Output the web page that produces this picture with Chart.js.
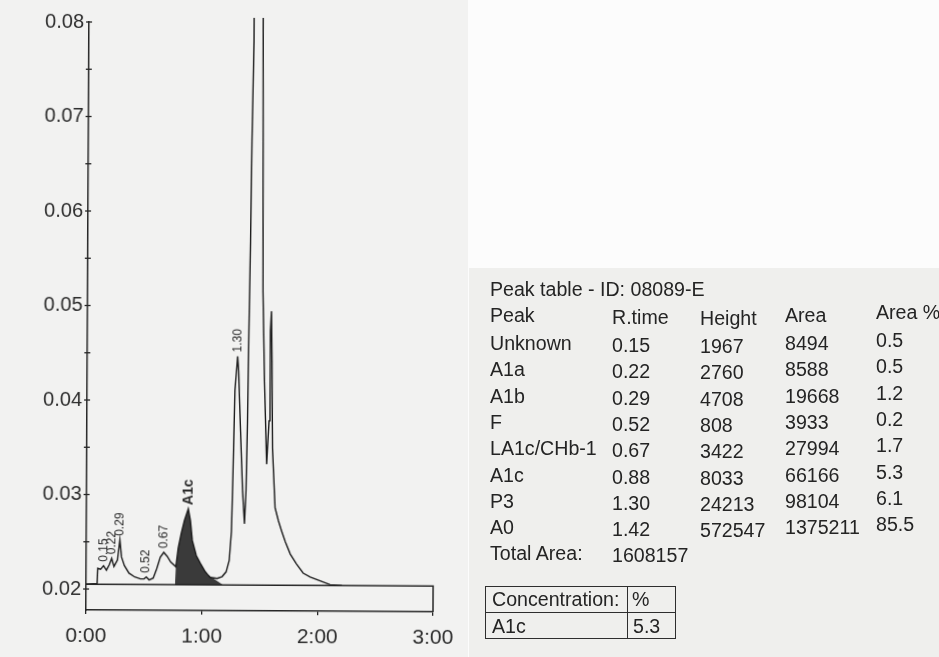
<!DOCTYPE html>
<html>
<head>
<meta charset="utf-8">
<title>HbA1c chromatogram</title>
<script src="https://cdn.jsdelivr.net/npm/chart.js@4.4.1/dist/chart.umd.min.js"></script>
<style>
  html, body { margin: 0; padding: 0; width: 939px; height: 657px; overflow: hidden; background: #fcfcfc; }
  #plotPanel { position: absolute; left: 0; top: 0; width: 468px; height: 657px; background: #f2f2f1; }
  #chartWrap { position: absolute; left: 0; top: 0; width: 470px; height: 657px;
               transform: rotate(0.3deg); transform-origin: 86px 610px; }
  #tablePanel { position: absolute; left: 469px; top: 268px; width: 470px; height: 389px; background: #efefed; }
  .t { position: absolute; font-family: "Liberation Sans", Arial, sans-serif; font-size: 19.6px; line-height: 20px;
       color: #242424; white-space: nowrap; }
  #concBox { position: absolute; left: 485px; top: 586px; width: 191px; height: 53px;
             border: 1.5px solid #2e2e2e; box-sizing: border-box; }
  #concBox .vl { position: absolute; left: 141px; top: 0; bottom: 0; border-left: 1.5px solid #2e2e2e; }
  #concBox .hl { position: absolute; left: 0; right: 0; top: 25px; border-top: 1.5px solid #2e2e2e; }
</style>
</head>
<body>
<div id="plotPanel"></div>
<div id="chartWrap"><canvas id="chrom" width="470" height="657"></canvas></div>
<div id="tablePanel"></div>
<div id="tableText"></div>
<div id="concBox"><div class="vl"></div><div class="hl"></div></div>

<script>
// ---- detector trace (time in minutes, absorbance in AU) ----
const traceTime = [
  0, 0.095, 0.100, 0.125, 0.15, 0.175, 0.20, 0.22, 0.24, 0.27, 0.29, 0.305, 0.33, 0.37,
  0.42, 0.47, 0.50, 0.52, 0.545, 0.58, 0.61, 0.64, 0.67, 0.70, 0.73, 0.775, 0.795, 0.821,
  0.847, 0.88, 0.899, 0.916, 0.951, 0.986, 1.029, 1.05, 1.072, 1.133, 1.176, 1.21, 1.236,
  1.254, 1.265, 1.278, 1.30, 1.309, 1.328, 1.348, 1.366, 1.378, 1.388, 1.396, 1.406, 1.414,
  1.427, 1.47, 1.506, 1.516, 1.533, 1.555, 1.574, 1.582, 1.590, 1.597, 1.605, 1.63, 1.66,
  1.689, 1.72, 1.764, 1.816, 1.876, 1.937, 2.023, 2.109, 2.211
];
const traceSignal = [
  0.0205, 0.0206, 0.0222, 0.0221, 0.02247, 0.0220, 0.0226, 0.02326, 0.0224, 0.0231, 0.02521, 0.0234, 0.0225, 0.0217,
  0.0213, 0.0211, 0.0211, 0.02131, 0.0210, 0.0212, 0.0222, 0.0234, 0.02392, 0.0235, 0.0229, 0.0224, 0.0244, 0.0260,
  0.0273, 0.02853, 0.0273, 0.0252, 0.0236, 0.0228, 0.0219, 0.0216, 0.0213, 0.0212, 0.0214, 0.0219, 0.0231,
  0.0262, 0.0326, 0.0411, 0.04471, 0.0432, 0.0368, 0.0305, 0.0270, 0.0305, 0.0379, 0.0474, 0.0569, 0.0675,
  0.0781, 0.59305, 0.0790, 0.0516, 0.0421, 0.0333, 0.0379, 0.0474, 0.0495, 0.0442, 0.0350, 0.0287, 0.0273,
  0.0262, 0.0251, 0.0238, 0.0228, 0.0218, 0.0214, 0.0210, 0.0206, 0.0205
];
const baselineAU = 0.0205;

// ---- peak table ----
const peakNames   = ['Unknown', 'A1a', 'A1b', 'F', 'LA1c/CHb-1', 'A1c', 'P3', 'A0'];
const peakRTime   = [0.15, 0.22, 0.29, 0.52, 0.67, 0.88, 1.30, 1.42];
const peakHeight  = [1967, 2760, 4708, 808, 3422, 8033, 24213, 572547];
const peakArea    = [8494, 8588, 19668, 3933, 27994, 66166, 98104, 1375211];
const peakAreaPct = [0.5, 0.5, 1.2, 0.2, 1.7, 5.3, 6.1, 85.5];
const peakTags    = ['0.15', '0.22', '0.29', '0.52', '0.67', 'A1c', '1.30', ''];
const totalArea   = 1608157;
const sampleId    = '08089-E';
const a1cPercent  = 5.3;

// A1c integration window (minutes)
const a1cStart = 0.768, a1cCut = 1.05, a1cEnd = 1.184;

// ---- axes ----
const xTicks      = [0, 1, 2, 3];
const xTickLabels = ['0:00', '1:00', '2:00', '3:00'];
const yMajorTicks = [0.02, 0.03, 0.04, 0.05, 0.06, 0.07, 0.08];
const yMinorTicks = [0.025, 0.035, 0.045, 0.055, 0.065, 0.075];
const yMin = 0.01778, yMax = 0.08;

const FONT = '"Liberation Sans", Arial, sans-serif';
const INK = '#262626';

const tracePoints = traceTime.map((t, i) => ({ x: t, y: traceSignal[i] }));
const a1cPoints = [{ x: a1cStart, y: baselineAU }]
  .concat(tracePoints.filter(p => p.x > a1cStart && p.x <= a1cCut))
  .concat([{ x: a1cEnd, y: baselineAU }]);

// strip under the baseline, crossing ticks on the y axis, peak tags
const chromDecor = {
  id: 'chromDecor',
  afterDatasetsDraw(chart) {
    const { ctx, chartArea } = chart;
    const xs = chart.scales.x, ys = chart.scales.y;
    ctx.save();
    const l = xs.getPixelForValue(xTicks[0]);
    const r = xs.getPixelForValue(xTicks[xTicks.length - 1]);
    const top = ys.getPixelForValue(baselineAU);
    ctx.strokeStyle = INK;
    ctx.lineWidth = 1.5;
    ctx.beginPath();
    ctx.moveTo(l, top); ctx.lineTo(r, top); ctx.lineTo(r, chartArea.bottom);
    ctx.stroke();

    ctx.lineWidth = 1.3;
    ys.ticks.forEach(tk => {
      const py = ys.getPixelForValue(tk.value);
      ctx.beginPath();
      ctx.moveTo(chartArea.left - 3, py);
      ctx.lineTo(chartArea.left + 3, py);
      ctx.stroke();
    });

    ctx.fillStyle = '#2a2a2a';
    peakTags.forEach((tag, i) => {
      if (!tag) return;
      const px = xs.getPixelForValue(peakRTime[i]);
      const py = ys.getPixelForValue(baselineAU + peakHeight[i] * 1e-6) - 4;
      ctx.save();
      ctx.translate(px, py);
      ctx.rotate(-Math.PI / 2);
      ctx.font = tag === 'A1c' ? 'bold 14px ' + FONT : '12px ' + FONT;
      ctx.textAlign = 'left';
      ctx.textBaseline = 'middle';
      ctx.fillText(tag, 0, 0);
      ctx.restore();
    });
    ctx.restore();
  }
};

new Chart(document.getElementById('chrom'), {
  type: 'line',
  data: {
    datasets: [
      {
        data: tracePoints,
        borderColor: '#1c1c1c',
        borderWidth: 1.4,
        pointRadius: 0,
        fill: false,
        tension: 0,
        clip: { left: 0, top: 5, right: 0, bottom: 0 },
        order: 1
      },
      {
        data: a1cPoints,
        borderWidth: 0,
        borderColor: 'rgba(0,0,0,0)',
        backgroundColor: '#3a3a3a',
        pointRadius: 0,
        fill: { value: baselineAU },
        tension: 0,
        order: 2
      }
    ]
  },
  options: {
    responsive: false,
    animation: false,
    layout: { padding: { top: 22, right: 37, left: 0, bottom: 0 } },
    plugins: { legend: { display: false }, tooltip: { enabled: false } },
    scales: {
      x: {
        type: 'linear',
        min: xTicks[0],
        max: xTicks[xTicks.length - 1],
        afterBuildTicks: s => { s.ticks = xTicks.map(v => ({ value: v })); },
        afterFit: s => { s.height = 47; },
        ticks: {
          autoSkip: false, maxRotation: 0, padding: 10,
          color: '#2c2c2c', font: { family: FONT, size: 21 },
          callback: (v, i) => xTickLabels[i]
        },
        grid: { display: true, drawOnChartArea: false, tickLength: 4, color: INK, lineWidth: 1.3 },
        border: { display: true, color: INK, width: 1.5 }
      },
      y: {
        type: 'linear',
        min: yMin,
        max: yMax,
        afterBuildTicks: s => {
          s.ticks = yMajorTicks.concat(yMinorTicks).sort((a, b) => a - b).map(v => ({ value: v }));
        },
        afterFit: s => { s.width = 86; },
        ticks: {
          autoSkip: false, padding: 5,
          color: '#2c2c2c', font: { family: FONT, size: 20 },
          callback: v => (yMajorTicks.includes(v) ? v.toFixed(2) : '')
        },
        grid: { display: false, drawTicks: false },
        border: { display: true, color: INK, width: 1.5 }
      }
    }
  },
  plugins: [chromDecor]
});

// ---- peak table text ----
(function buildTable() {
  const host = document.getElementById('tableText');
  const put = (text, left, cy) => {
    const s = document.createElement('span');
    s.className = 't';
    s.textContent = text;
    s.style.left = left + 'px';
    s.style.top = (cy - 10) + 'px';
    host.appendChild(s);
  };
  const colX = [490, 612, 700, 785, 876];
  const colDy = [0, 2, 3, 0, -3];
  put('Peak table - ID: ' + sampleId, 490, 289);
  ['Peak', 'R.time', 'Height', 'Area', 'Area %'].forEach((h, c) => put(h, colX[c], 315 + colDy[c]));
  peakNames.forEach((name, r) => {
    const cy = 343 + r * 26.3;
    const cells = [name, peakRTime[r].toFixed(2), String(peakHeight[r]), String(peakArea[r]), peakAreaPct[r].toFixed(1)];
    cells.forEach((txt, c) => put(txt, colX[c], cy + colDy[c]));
  });
  put('Total Area:', 490, 553);
  put(String(totalArea), 612, 555);
  put('Concentration:', 492, 599);
  put('%', 632, 599);
  put('A1c', 492, 626);
  put(a1cPercent.toFixed(1), 633, 626);
})();
</script>
</body>
</html>
